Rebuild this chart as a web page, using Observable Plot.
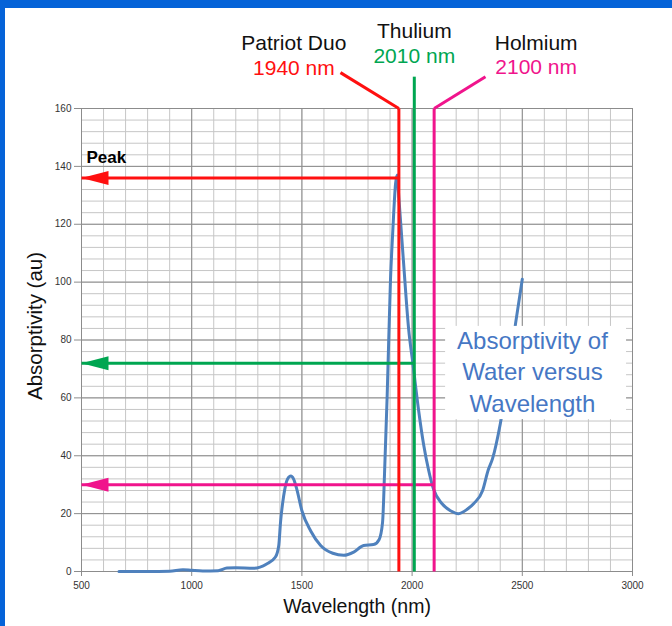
<!DOCTYPE html>
<html>
<head>
<meta charset="utf-8">
<script src="https://cdn.jsdelivr.net/npm/d3@7"></script>
<script src="https://cdn.jsdelivr.net/npm/@observablehq/plot@0.6"></script>
<style>
  html, body { margin: 0; padding: 0; width: 672px; height: 626px; overflow: hidden; background: #0563d8; }
  #panel { position: absolute; left: 5px; top: 8px; width: 667px; height: 618px; background: #fff; }
  #panel svg { display: block; }
</style>
</head>
<body>
<div id="panel"></div>
<script>
// Water absorptivity curve (wavelength in nm, absorptivity in au)
const wavelengthNm = [670, 800, 900, 960, 1000, 1050, 1120, 1160, 1200, 1280, 1340, 1380, 1395, 1403, 1417, 1435, 1450, 1462, 1475, 1500, 1540, 1585, 1640, 1690, 1735, 1780, 1825, 1850, 1866, 1875, 1887, 1902, 1912, 1925, 1932, 1940, 1961, 1984, 2005, 2029, 2052, 2075, 2097, 2136, 2174, 2211, 2250, 2280, 2320, 2345, 2365, 2400, 2440, 2470, 2500];
const absorptivity = [0, 0, 0.1, 0.6, 0.4, 0.2, 0.3, 1.2, 1.3, 1.1, 2.6, 5, 9, 17, 26, 32, 33, 32, 29, 21, 14, 9, 6.3, 5.6, 6.7, 9, 9.3, 11, 17, 34, 61, 101, 117, 134, 137, 129, 107, 84, 71, 56, 44, 35, 28.5, 23.4, 21, 20, 21.5, 23.5, 28, 35, 39, 51, 70, 86, 101];

// Lasers
const laserNames = ["Patriot Duo", "Thulium", "Holmium"];
const laserNm = [1940, 2010, 2100];
const laserLabels = ["1940 nm", "2010 nm", "2100 nm"];
const laserColors = ["#ff1010", "#00a651", "#f0148c"];
const laserAbsorptivity = [136, 72, 30];
// leader line tops (nm, au) above the plot frame
const leaderTopNm = [1675, 2010, 2333];
const leaderTopAu = [172.4, 171, 171];

// Axis ticks
const xTicks = [500, 1000, 1500, 2000, 2500, 3000];
const yTicks = [0, 20, 40, 60, 80, 100, 120, 140, 160];
const xMinor = d3.range(500, 3001, 100);
const yMinor = d3.range(0, 161, 4);

const curve = wavelengthNm.map((x, i) => ({x, y: absorptivity[i]}));
const lasers = laserNames.map((name, i) => ({
  name, nm: laserNm[i], label: laserLabels[i], color: laserColors[i],
  level: laserAbsorptivity[i], topNm: leaderTopNm[i], topAu: leaderTopAu[i]
}));

const arrowHead = {
  draw(ctx) {
    ctx.moveTo(0, 0);
    ctx.lineTo(27, -7);
    ctx.lineTo(27, 7);
    ctx.closePath();
  }
};

const labelOffsets = [
  {dx: -105, dyName: -65, dyNm: -40},
  {dx: 0, dyName: -77, dyNm: -52},
  {dx: 102, dyName: -65, dyNm: -41}
];

const marks = [
  Plot.ruleX(xMinor, {stroke: "#c6c6c6", strokeWidth: 1}),
  Plot.ruleY(yMinor, {stroke: "#c6c6c6", strokeWidth: 1}),
  Plot.ruleX(xTicks, {stroke: "#8c8c8c", strokeWidth: 1}),
  Plot.ruleY(yTicks, {stroke: "#8c8c8c", strokeWidth: 1}),
  Plot.frame({stroke: "#8c8c8c"}),
  Plot.axisX({ticks: xTicks, tickFormat: d => String(d), tickSize: 5, tickPadding: 5, fontSize: 10, stroke: "#8c8c8c", fill: "#333", label: null}),
  Plot.axisY({ticks: yTicks, tickFormat: d => String(d), tickSize: 7, tickPadding: 3, fontSize: 10, stroke: "#8c8c8c", fill: "#333", label: null}),
  Plot.line(curve, {x: "x", y: "y", stroke: "#4f81bd", strokeWidth: 3, curve: "monotone-x"}),
  // horizontal arrows
  Plot.link(lasers, {x1: 500, x2: "nm", y1: "level", y2: "level", stroke: "color", strokeWidth: 3}),
  Plot.dot(lasers, {x: 500, y: "level", symbol: arrowHead, fill: "color", stroke: null}),
  // vertical laser lines
  Plot.link(lasers, {x1: "nm", x2: "nm", y1: 0, y2: 160, stroke: "color", strokeWidth: 3}),
  Plot.link(lasers, {x1: "nm", x2: "topNm", y1: 160, y2: "topAu", stroke: "color", strokeWidth: 3}),
  // text box
  Plot.rect([0], {x1: 2152, x2: 2973, y1: 52.5, y2: 84.7, fill: "white"}),
  Plot.text(["Absorptivity of\nWater versus\nWavelength"], {x: 2546, y: 68.1, dy: -4, fill: "#4677c4", fontSize: 24, lineHeight: 1.3}),
  Plot.text(["Peak"], {x: 500, y: laserAbsorptivity[0], dx: 5, dy: -20, textAnchor: "start", fontWeight: "bold", fontSize: 17, fill: "#000"}),
  Plot.text(["Absorptivity (au)"], {frameAnchor: "left", textAnchor: "middle", rotate: -90, dx: -46, dy: -14, fontSize: 20.5, fill: "#111"}),
  Plot.text(["Wavelength (nm)"], {frameAnchor: "bottom", dy: 41, fontSize: 19.5, fill: "#111"})
];

lasers.forEach((d, i) => {
  const o = labelOffsets[i];
  marks.push(Plot.text([d], {x: "nm", y: 160, text: "name", dx: o.dx, dy: o.dyName, fontSize: 21, fill: "#111"}));
  marks.push(Plot.text([d], {x: "nm", y: 160, text: "label", dx: o.dx, dy: o.dyNm, fontSize: 21, fill: d.color}));
});

const chart = Plot.plot({
  width: 667,
  height: 618,
  marginLeft: 76,
  marginRight: 40,
  marginTop: 100,
  marginBottom: 55,
  x: {domain: [500, 3000]},
  y: {domain: [0, 160]},
  style: {fontFamily: "'Liberation Sans', Arial, sans-serif", background: "white", overflow: "visible"},
  marks
});
document.getElementById("panel").append(chart);
</script>
</body>
</html>
